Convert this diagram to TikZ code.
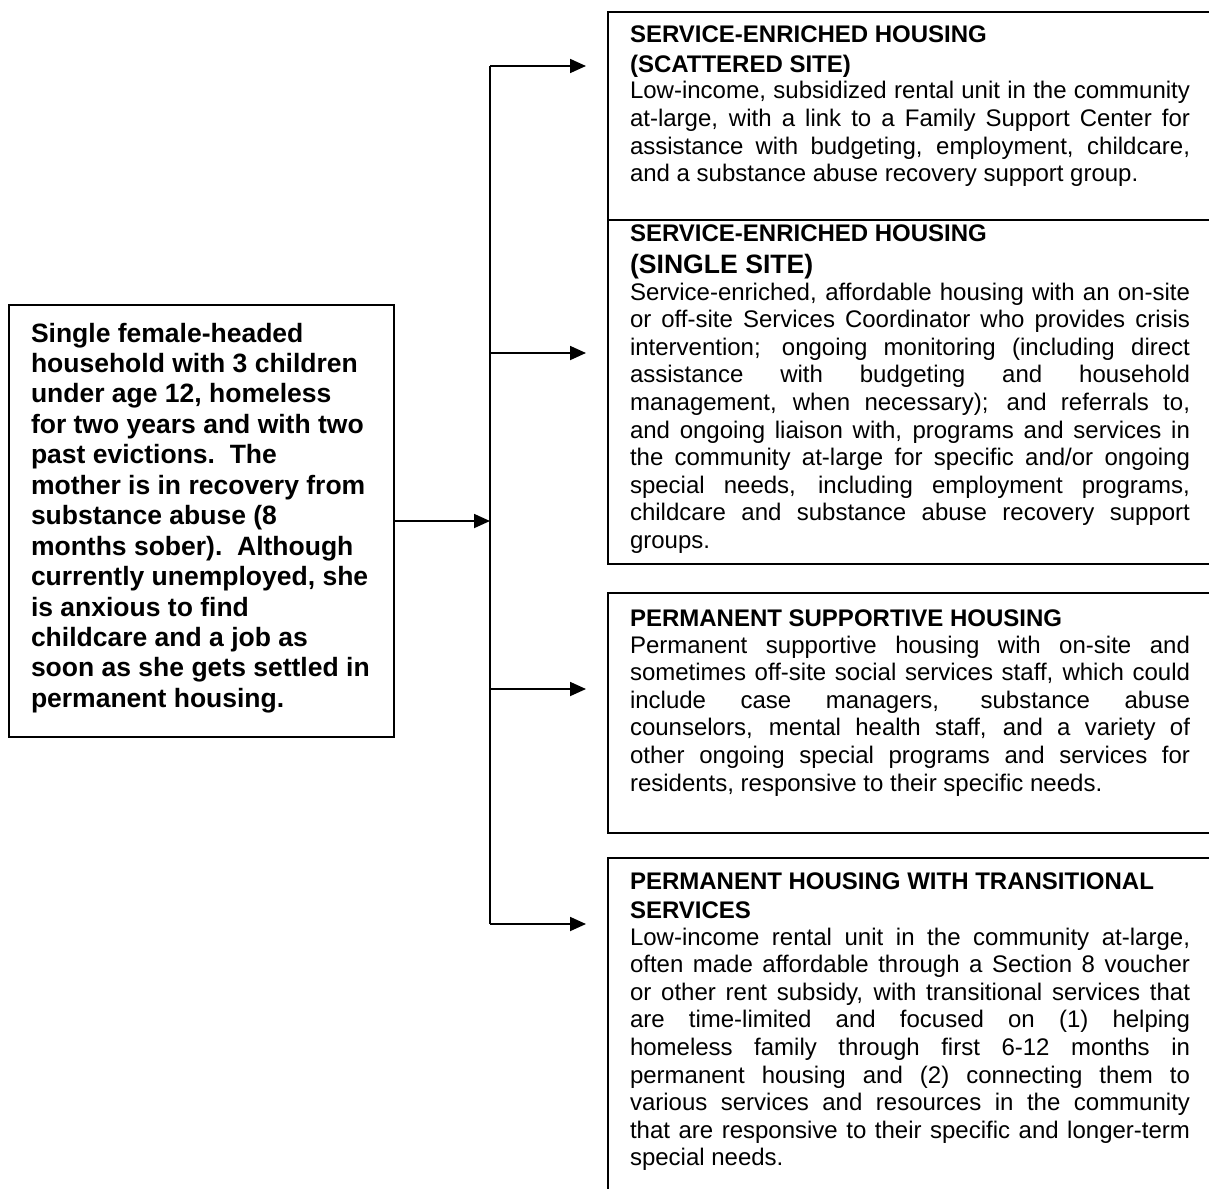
\documentclass[tikz,border=0pt]{standalone}
\usepackage{fontspec}
\setmainfont{Liberation Sans}
\usetikzlibrary{arrows.meta}

% justified line of a description, and the ragged last line
\newcommand\fullline[1]{\hbox to 560pt{#1}}
\newcommand\lastline[1]{\hbox{#1}}
\newcommand\bodyfont{\fontsize{24}{27.6}\selectfont}
\newcommand\headfont{\fontsize{24}{30}\selectfont\bfseries}
\newcommand\casefont{\fontsize{26.5}{30.45}\selectfont\bfseries}

\tikzset{
  panel/.style={draw, line width=2pt, rectangle, inner sep=0pt, outer sep=0pt,
                anchor=north west, minimum width=620pt},
  casebox/.style={draw, line width=2pt, rectangle, inner sep=0pt, outer sep=0pt,
                  anchor=north west, minimum width=385pt, minimum height=432pt},
  conn/.style={line width=1.8pt},
  arrowline/.style={conn, -{Triangle[length=16pt,width=14pt]}},
  txt/.style={anchor=base west, inner sep=0pt, outer sep=0pt}
}

\begin{document}
\begin{tikzpicture}[x=1pt, y=-1pt]
\path[use as bounding box, clip] (0,0) rectangle (1209,1188);

% the household
\node[casebox] (case) at (9,305) {};
\node[txt] (casetext) at (31,342) {\vtop{\casefont
  \hbox{Single female-headed}
  \hbox{household with 3 children}
  \hbox{under age 12, homeless}
  \hbox{for two years and with two}
  \hbox{past evictions.\ \ The}
  \hbox{mother is in recovery from}
  \hbox{substance abuse (8}
  \hbox{months sober).\ \ Although}
  \hbox{currently unemployed, she}
  \hbox{is anxious to find}
  \hbox{childcare and a job as}
  \hbox{soon as she gets settled in}
  \hbox{permanent housing.}}};

% housing options
\node[panel, minimum height=208pt] (b1) at (608,12) {};
\node[panel, minimum height=344pt] (b2) at (608,220) {};
\node[panel, minimum height=240pt] (b3) at (608,593) {};
\node[panel, minimum height=360pt] (b4) at (608,858) {};

\node[txt] (b1head) at (630,43) {\vtop{\headfont
  \hbox{SERVICE-ENRICHED HOUSING}
  \hbox{(SCATTERED SITE)}}};
\node[txt] (b1body) at (630,99) {\vtop{\bodyfont
  \fullline{Low-income, subsidized rental unit in the community}
  \fullline{at-large, with a link to a Family Support Center for}
  \fullline{assistance with budgeting, employment, childcare,}
  \lastline{and a substance abuse recovery support group.}}};

\node[txt] (b2head) at (630,241) {\vtop{\headfont\baselineskip=32pt
  \hbox{SERVICE-ENRICHED HOUSING}
  \hbox{\fontsize{26.6}{30}\selectfont (SINGLE SITE)}}};
\node[txt] (b2body) at (630,300) {\vtop{\bodyfont
  \fullline{Service-enriched, affordable housing with an on-site}
  \fullline{or off-site Services Coordinator who provides crisis}
  \fullline{intervention; ongoing monitoring (including direct}
  \fullline{assistance with budgeting and household}
  \fullline{management, when necessary); and referrals to,}
  \fullline{and ongoing liaison with, programs and services in}
  \fullline{the community at-large for specific and/or ongoing}
  \fullline{special needs, including employment programs,}
  \fullline{childcare and substance abuse recovery support}
  \lastline{groups.}}};

\node[txt] (b3head) at (630,626) {\headfont PERMANENT SUPPORTIVE HOUSING};
\node[txt] (b3body) at (630,653) {\vtop{\bodyfont
  \fullline{Permanent supportive housing with on-site and}
  \fullline{sometimes off-site social services staff, which could}
  \fullline{include case managers, substance abuse}
  \fullline{counselors, mental health staff, and a variety of}
  \fullline{other ongoing special programs and services for}
  \lastline{residents, responsive to their specific needs.}}};

\node[txt] (b4head) at (630,889) {\vtop{\headfont\baselineskip=29pt
  \hbox{PERMANENT HOUSING WITH TRANSITIONAL}
  \hbox{SERVICES}}};
\node[txt] (b4body) at (630,945) {\vtop{\bodyfont
  \fullline{Low-income rental unit in the community at-large,}
  \fullline{often made affordable through a Section 8 voucher}
  \fullline{or other rent subsidy, with transitional services that}
  \fullline{are time-limited and focused on (1) helping}
  \fullline{homeless family through first 6-12 months in}
  \fullline{permanent housing and (2) connecting them to}
  \fullline{various services and resources in the community}
  \fullline{that are responsive to their specific and longer-term}
  \lastline{special needs.}}};

% connector trunk and branches
\coordinate (j1) at (490,66);
\coordinate (j2) at (490,353);
\coordinate (jm) at (490,521);
\coordinate (j3) at (490,689);
\coordinate (j4) at (490,924);
\coordinate (p1) at (586,66);
\coordinate (p2) at (586,353);
\coordinate (p3) at (586,689);
\coordinate (p4) at (586,924);

\draw[arrowline] (case.east |- jm) -- (jm);
\draw[conn] (j1) -- (j4);
\draw[arrowline] (j1) -- (p1);
\draw[arrowline] (j2) -- (p2);
\draw[arrowline] (j3) -- (p3);
\draw[arrowline] (j4) -- (p4);
\end{tikzpicture}
\end{document}
